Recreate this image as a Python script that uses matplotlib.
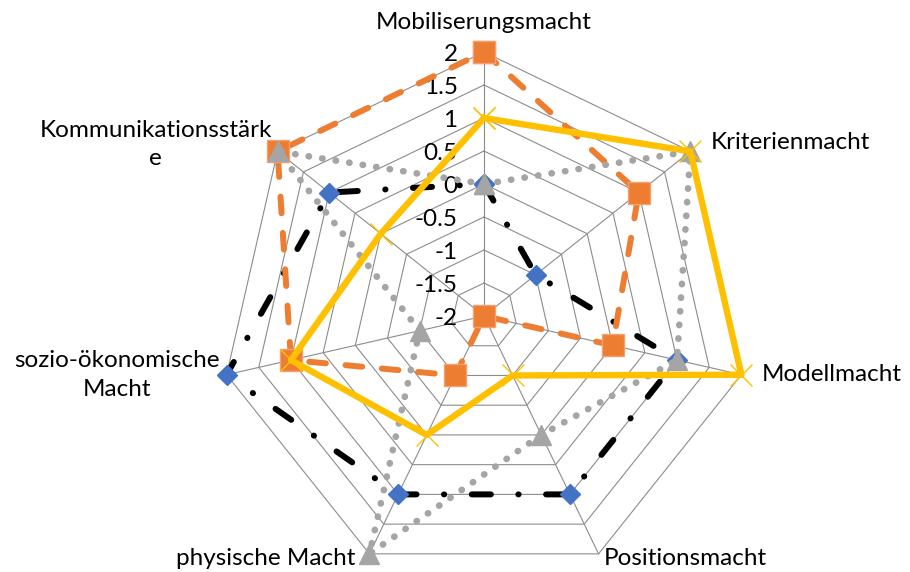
import numpy as np
import matplotlib
matplotlib.use('Agg')
import matplotlib.pyplot as plt

plt.rcParams['font.family'] = ['Lato', 'DejaVu Sans']

categories = ['Mobiliserungsmacht', 'Kriterienmacht', 'Modellmacht', 'Positionsmacht',
              'physische Macht', 'sozio-ökonomische\nMacht', 'Kommunikationsstärk\ne']
ticks = [-2, -1.5, -1, -0.5, 0, 0.5, 1, 1.5, 2]
tick_labels = ['-2', '-1.5', '-1', '-0.5', '0', '0.5', '1', '1.5', '2']

serie_blau = [0, -1, 1, 1, 1, 2, 1]
serie_orange = [2, 1, 0, -2, -1, 1, 2]
serie_grau = [0, 2, 1, 0, 2, -1, 2]
serie_gelb = [1, 2, 2, -1, 0, 1, 0]

n = len(categories)
winkel = np.linspace(0, 2 * np.pi, n, endpoint=False)
winkel_zu = np.append(winkel, winkel[0])

def zu(werte):
    return list(werte) + [werte[0]]

fig = plt.figure(figsize=(9.1, 5.72), dpi=100)
ax = fig.add_axes([220 / 910, -8 / 572, 528 / 910, 528 / 572], projection='polar')
ax.set_theta_zero_location('N')
ax.set_theta_direction(-1)
ax.set_ylim(-2, 2)
ax.set_xticks([])
ax.set_yticks([])
ax.grid(False)
ax.spines['polar'].set_visible(False)
ax.patch.set_visible(False)

# Gitter als Siebenecke
gitterfarbe = '#8c8c8c'
for r in ticks[1:]:
    ax.plot(winkel_zu, [r] * (n + 1), color=gitterfarbe, lw=0.8, zorder=1, clip_on=False)
for w in winkel:
    ax.plot([w, w], [-2, 2], color=gitterfarbe, lw=0.8, zorder=1, clip_on=False)

# Achsenbeschriftung
for r, t in zip(ticks, tick_labels):
    ax.annotate(t, xy=(0, r), xytext=(-19, -2), textcoords='offset points',
                ha='right', va='center', fontsize=17.5, zorder=2)

# Datenreihen
ax.plot(winkel_zu, zu(serie_blau), color='black', lw=4.3, dashes=(3.2, 4.6, 0.05, 4.6),
        dash_capstyle='round', marker='D', ms=10.5, mfc='#4472C4', mec='#4472C4',
        zorder=3, clip_on=False)
ax.plot(winkel_zu, zu(serie_orange), color='#ED7D31', lw=4.3, dashes=(2.8, 3.3),
        dash_capstyle='round', marker='s', ms=16, mfc='#ED7D31', mec='#F4A070', mew=1,
        zorder=4, clip_on=False)
ax.plot(winkel_zu, zu(serie_grau), color='#A5A5A5', lw=4.8, dashes=(0.05, 2.0),
        dash_capstyle='round', marker='^', ms=15, mfc='#A5A5A5', mec='#A5A5A5',
        zorder=5, clip_on=False)
ax.plot(winkel_zu, zu(serie_gelb), color='#FFC000', lw=4.6, marker='x', ms=16.5,
        mec='#FFC000', mew=1, zorder=6, clip_on=False)

# Kategorien
versatz = [(0, 21, 'center'), (15, 6.5, 'left'), (14.5, 0, 'left'), (4, -3, 'left'),
           (-10, -3, 'right'), (-5, 0, 'right'), (-4, 5, 'right')]
for w, name, (dx, dy, ha) in zip(winkel, categories, versatz):
    ax.annotate(name, xy=(w, 2), xytext=(dx, dy), textcoords='offset points',
                ha=ha, va='center', multialignment='center', fontsize=17.5,
                linespacing=1.45, annotation_clip=False)

fig.savefig('out.png', dpi=100)
